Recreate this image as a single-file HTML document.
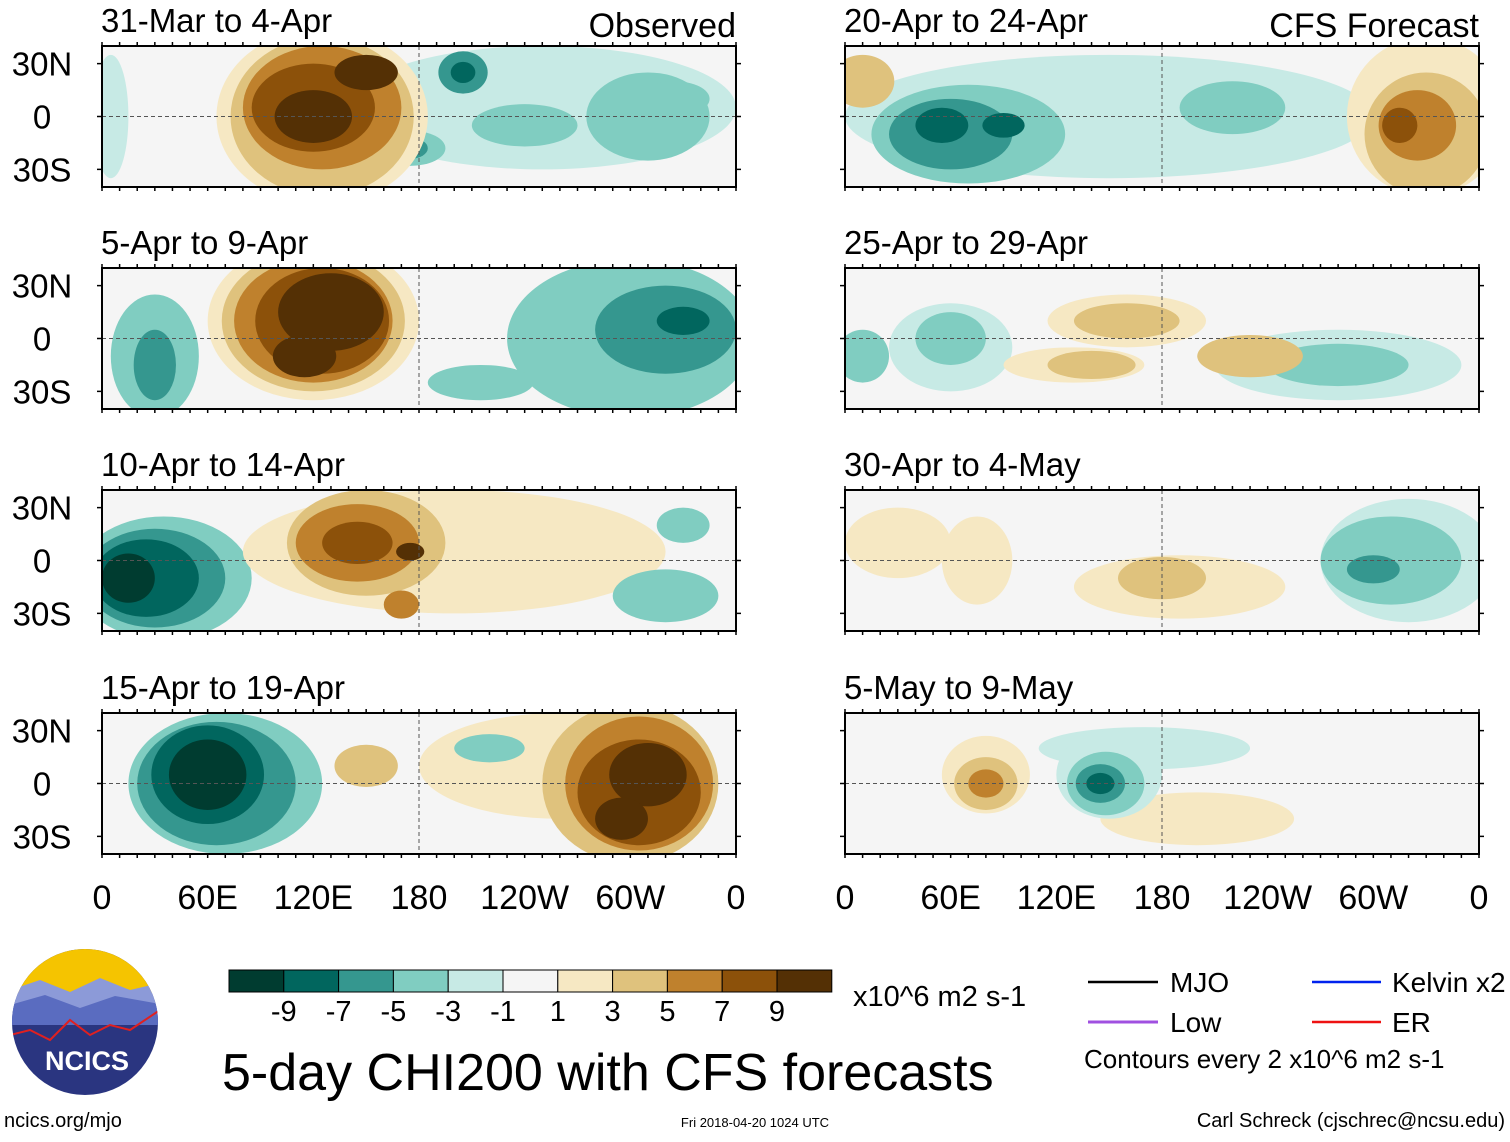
<!DOCTYPE html>
<html><head><meta charset="utf-8"><style>
body{margin:0;background:#fff;font-family:"Liberation Sans",sans-serif;}
svg text{font-family:"Liberation Sans",sans-serif;}
</style></head><body>
<svg id="fig" width="1510" height="1137" xmlns="http://www.w3.org/2000/svg"></svg>
<script>
const levels=[-9,-7,-5,-3,-1,1,3,5,7,9];
const colors=["#003c30","#01665e","#35978f","#80cdc1","#c7eae5","#f5f5f5","#f6e8c3","#dfc27d","#bf812d","#8c510a","#543005"];
const panelTitles=["31-Mar to 4-Apr","5-Apr to 9-Apr","10-Apr to 14-Apr","15-Apr to 19-Apr","20-Apr to 24-Apr","25-Apr to 29-Apr","30-Apr to 4-May","5-May to 9-May"];
// patches: [lon, lat, rxDeg, ryDeg, value] drawn in order
const p0=[[5,0,10,35,-1],[250,5,110,35,-1],[310,0,35,25,-3],[240,-5,30,12,-3],[205,25,14,12,-5],[205,25,7,6,-7],[175,-18,20,10,-3],[175,-18,10,6,-5],[325,10,20,10,-3],[125,0,60,50,1],[125,0,52,45,3],[125,5,45,35,5],[120,5,35,25,7],[120,0,22,15,9],[150,25,18,10,9]];
const p1=[[300,0,70,45,-3],[320,5,40,25,-5],[330,10,15,8,-7],[30,-10,25,35,-3],[30,-15,12,20,-5],[215,-25,30,10,-3],[120,10,60,45,1],[120,10,52,40,3],[120,10,45,35,5],[125,10,38,30,7],[130,15,30,22,9],[115,-10,18,12,9]];
const p2=[[35,-10,50,35,-3],[30,-10,40,28,-5],[25,-10,30,22,-7],[15,-10,15,14,-9],[200,5,120,35,1],[150,10,45,30,3],[145,10,35,22,5],[145,10,20,12,7],[175,5,8,5,9],[170,-25,10,8,5],[320,-20,30,15,-3],[330,20,15,10,-3]];
const p3=[[70,0,55,40,-3],[65,0,45,35,-5],[60,5,32,28,-7],[60,5,22,20,-9],[260,10,80,30,1],[300,0,50,45,3],[305,0,42,38,5],[305,-5,35,30,7],[310,5,22,18,9],[295,-20,15,12,9],[150,10,18,12,3],[220,20,20,8,-3]];
const p4=[[150,0,150,35,-1],[70,-10,55,28,-3],[60,-10,35,20,-5],[55,-5,15,10,-7],[90,-5,12,7,-7],[220,5,30,15,-3],[330,0,45,45,1],[330,-10,35,35,3],[325,-5,22,20,5],[315,-5,10,10,7],[10,20,18,15,3]];
const p5=[[60,-5,35,25,-1],[60,0,20,15,-3],[10,-10,15,15,-3],[280,-15,70,20,-1],[280,-15,40,12,-3],[160,10,45,15,1],[160,10,30,10,3],[130,-15,40,10,1],[140,-15,25,8,3],[230,-10,30,12,3]];
const p6=[[320,0,50,35,-1],[310,0,40,25,-3],[300,-5,15,8,-5],[75,0,20,25,1],[30,10,30,20,1],[190,-15,60,18,1],[180,-10,25,12,3]];
const p7=[[170,20,60,12,-1],[200,-20,55,15,1],[80,5,25,22,1],[80,0,18,15,3],[80,0,10,8,5],[150,5,30,25,-1],[148,0,22,18,-3],[145,0,14,11,-5],[145,0,8,6,-7]];
const panelData=[p0,p1,p2,p3,p4,p5,p6,p7];
const latLabels=["30N","0","30S"], latVals=[30,0,-30];
const lonLabels=["0","60E","120E","180","120W","60W","0"], lonVals=[0,60,120,180,240,300,360];
const cbLabels=["-9","-7","-5","-3","-1","1","3","5","7","9"];

const NS="http://www.w3.org/2000/svg";
const svg=document.getElementById('fig');
function mk(t,a,p){const e=document.createElementNS(NS,t);for(const k in a)e.setAttribute(k,a[k]);(p||svg).appendChild(e);return e;}
function colorFor(v){let i=0;while(i<levels.length&&v>levels[i])i++;return colors[i];}
const PW=634,PH=141;
const lefts=[102,845], tops=[46,268,490,713];
for(let p=0;p<8;p++){
  const x0=lefts[Math.floor(p/4)], y0=tops[p%4];
  const xs=l=>x0+l/360*PW, ys=la=>y0+(40-la)/80*PH;
  const g=mk('g',{});
  
  
  const cp=mk('clipPath',{id:'c'+p},g);mk('rect',{x:x0,y:y0,width:PW,height:PH},cp);
  const inner=mk('g',{'clip-path':'url(#c'+p+')'},g);
  mk('rect',{x:x0,y:y0,width:PW,height:PH,fill:'#f5f5f5'},inner);
  for(const b of panelData[p]){
    const v=b[4];
    const e=mk('ellipse',{cx:xs(b[0]),cy:ys(b[1]),rx:b[2]/360*PW,ry:b[3]/80*PH,fill:colorFor(v+Math.sign(v)*0.5)},inner);
    
    
  }
  mk('line',{x1:x0,x2:x0+PW,y1:ys(0),y2:ys(0),stroke:'#555','stroke-dasharray':'4,3','stroke-width':1},inner);
  mk('line',{x1:xs(180),x2:xs(180),y1:y0,y2:y0+PH,stroke:'#555','stroke-dasharray':'4,3','stroke-width':1},inner);
  mk('rect',{x:x0,y:y0,width:PW,height:PH,fill:'none',stroke:'#000','stroke-width':2},g);
  for(let i=0;i<=36;i++){const x=xs(i*10);mk('line',{x1:x,x2:x,y1:y0-4,y2:y0,stroke:'#000','stroke-width':1.5},g);mk('line',{x1:x,x2:x,y1:y0+PH,y2:y0+PH+4,stroke:'#000','stroke-width':1.5},g);}
  for(let i=0;i<latVals.length;i++){const y=ys(latVals[i]);mk('line',{x1:x0-5,x2:x0,y1:y,y2:y,stroke:'#000','stroke-width':1.5},g);mk('line',{x1:x0+PW,x2:x0+PW+5,y1:y,y2:y,stroke:'#000','stroke-width':1.5},g);
    if(p<4){const t=mk('text',{x:42,y:y+12,'font-size':33,'text-anchor':'middle'},g);t.textContent=latLabels[i];}}
  const tt=mk('text',{x:x0-1,y:y0-14,'font-size':33},g);tt.textContent=panelTitles[p];
  
  
  if(p%4==3){for(let i=0;i<lonVals.length;i++){const t=mk('text',{x:xs(lonVals[i]),y:909,'font-size':34,'text-anchor':'middle'},g);t.textContent=lonLabels[i];}}
}
function txt(x,y,s,str,name,anchor,extra){const t=mk('text',Object.assign({x:x,y:y,'font-size':s,'text-anchor':anchor||'start'},extra||{}));t.textContent=str;return t;}
txt(736,37,34,"Observed","observed-label","end");
txt(1479,37,34,"CFS Forecast","forecast-label","end");
for(let i=0;i<colors.length;i++){const r=mk('rect',{x:229+i*54.8,y:970,width:54.8,height:22,fill:colors[i],stroke:'#000','stroke-width':1});}
for(let i=0;i<cbLabels.length;i++)txt(229+(i+1)*54.8,1021,29,cbLabels[i],"colorbar-label","middle");
txt(853,1006,29,"x10^6 m2 s-1","colorbar-units");
txt(222,1090,52,"5-day CHI200 with CFS forecasts","figure-title");
mk('line',{x1:1088,x2:1158,y1:982,y2:982,stroke:'#000','stroke-width':2.5});
mk('line',{x1:1312,x2:1381,y1:982,y2:982,stroke:'#0022ee','stroke-width':2.5});
mk('line',{x1:1088,x2:1158,y1:1022,y2:1022,stroke:'#a050e0','stroke-width':3});
mk('line',{x1:1312,x2:1381,y1:1022,y2:1022,stroke:'#ee1111','stroke-width':2.5});
txt(1170,992,28,"MJO","legend-mjo");
txt(1392,992,28,"Kelvin x2","legend-kelvin");
txt(1170,1032,28,"Low","legend-low");
txt(1392,1032,28,"ER","legend-er");
txt(1084,1068,26,"Contours every 2 x10^6 m2 s-1","contour-note");
txt(4,1127,20,"ncics.org/mjo","site-url");
txt(755,1127,13,"Fri 2018-04-20 1024 UTC","timestamp","middle");
txt(1505,1127,20,"Carl Schreck (cjschrec@ncsu.edu)","author-credit","end");
const lg=mk('g',{});
const lc=mk('clipPath',{id:'lc'},lg);mk('circle',{cx:85,cy:1022,r:73},lc);
const li=mk('g',{'clip-path':'url(#lc)'},lg);
mk('rect',{x:10,y:948,width:150,height:150,fill:'#2a3580'},li);
mk('rect',{x:10,y:948,width:150,height:45,fill:'#f5c400'},li);
mk('path',{d:'M10 990 L40 980 L70 992 L100 978 L130 990 L160 983 L160 1010 L10 1010Z',fill:'#8c9ad8'},li);
mk('path',{d:'M10 1005 L45 995 L80 1008 L115 996 L160 1004 L160 1025 L10 1025Z',fill:'#5a6cc0'},li);
mk('path',{d:'M10 1035 L30 1030 L50 1040 L70 1020 L90 1035 L110 1025 L130 1030 L160 1010',fill:'none',stroke:'#e02020','stroke-width':2},li);
txt(87,1070,27,"NCICS","logo-text","middle",{fill:'#fff','font-weight':'bold'});
</script>
</body></html>
